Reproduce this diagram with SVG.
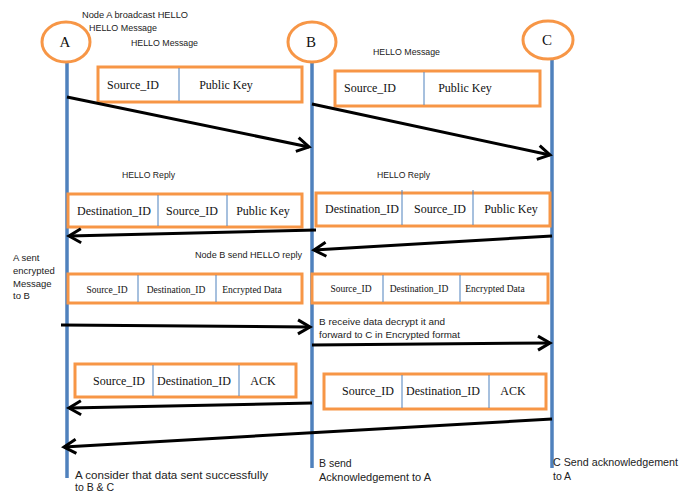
<svg xmlns="http://www.w3.org/2000/svg" width="681" height="494" viewBox="0 0 681 494">
<style>
.lbl{font-family:"Liberation Sans","Open Sans",sans-serif;font-size:9.5px;fill:#222}
.blbl{font-family:"Liberation Sans","Open Sans",sans-serif;font-size:10.5px;fill:#222}
.node{fill:#fff;stroke:#f79646;stroke-width:3}
.ntx{font-family:"Liberation Serif",serif;font-size:15px;fill:#111;text-anchor:middle}
.life{stroke:#4f81bd;stroke-width:3.5;fill:none}
.box{fill:#fff;stroke:#f79646;stroke-width:3}
.div{stroke:#4f81bd;stroke-width:1}
.ft{font-family:"Liberation Serif",serif;font-size:12px;fill:#111;text-anchor:middle}
.fs{font-family:"Liberation Serif",serif;font-size:9.5px;fill:#111;text-anchor:middle}
.arr{stroke:#000;stroke-width:3;fill:none;marker-end:url(#ah)}
</style>
<defs>
<marker id="ah" markerUnits="userSpaceOnUse" markerWidth="20" markerHeight="20" viewBox="-14 -10 20 20" refX="0" refY="0" orient="auto">
<path d="M-12,-7 L0,0 L-12,7" fill="none" stroke="#000" stroke-width="3" stroke-linejoin="miter"/>
</marker>
</defs>
<rect width="681" height="494" fill="#fff"/>

<g id="lifelines">
<line class="life" x1="67" y1="62" x2="67" y2="478"/>
<line class="life" x1="312" y1="62" x2="312" y2="468"/>
<line class="life" x1="552" y1="60" x2="552" y2="468"/>
</g>

<g id="nodeA"><ellipse class="node" cx="66" cy="42" rx="24" ry="20"/><text class="ntx" x="65" y="47">A</text></g>
<g id="nodeB"><ellipse class="node" cx="312" cy="42" rx="24" ry="20"/><text class="ntx" x="311" y="47">B</text></g>
<g id="nodeC"><ellipse class="node" cx="548" cy="40" rx="25" ry="19"/><text class="ntx" x="547" y="45">C</text></g>

<g id="labels">
<text class="lbl" x="82" y="18" textLength="106" lengthAdjust="spacingAndGlyphs">Node A broadcast HELLO</text>
<text class="lbl" x="89" y="31" textLength="68" lengthAdjust="spacingAndGlyphs">HELLO Message</text>
<text class="lbl" x="131" y="46" textLength="67" lengthAdjust="spacingAndGlyphs">HELLO Message</text>
<text class="lbl" x="373" y="55" textLength="67" lengthAdjust="spacingAndGlyphs">HELLO Message</text>
<text class="lbl" x="122" y="178" textLength="53" lengthAdjust="spacingAndGlyphs">HELLO Reply</text>
<text class="lbl" x="377" y="178" textLength="53" lengthAdjust="spacingAndGlyphs">HELLO Reply</text>
<text class="lbl" x="195" y="258" textLength="107" lengthAdjust="spacingAndGlyphs">Node B send HELLO reply</text>
<text class="lbl" x="13" y="261">A sent</text>
<text class="lbl" x="13" y="274">encrypted</text>
<text class="lbl" x="13" y="287">Message</text>
<text class="lbl" x="13" y="299">to B</text>
<text class="lbl" x="319" y="325" textLength="126" lengthAdjust="spacingAndGlyphs">B receive data decrypt it and</text>
<text class="lbl" x="319" y="338" textLength="141" lengthAdjust="spacingAndGlyphs">forward to C in Encrypted format</text>
<text class="blbl" x="75" y="479" textLength="193" lengthAdjust="spacingAndGlyphs">A consider that data sent successfully</text>
<text class="blbl" x="75" y="491">to B &amp; C</text>
<text class="blbl" x="319" y="467">B send</text>
<text class="blbl" x="319" y="481" textLength="112" lengthAdjust="spacingAndGlyphs">Acknowledgement to A</text>
<text class="blbl" x="553" y="466" textLength="125" lengthAdjust="spacingAndGlyphs">C Send acknowledgement</text>
<text class="blbl" x="553" y="480">to A</text>
</g>

<g id="frame1">
<rect class="box" x="98" y="67" width="204" height="35"/>
<line class="div" x1="179" y1="68" x2="179" y2="101"/>
<text class="ft" x="133" y="89">Source_ID</text>
<text class="ft" x="226" y="89">Public Key</text>
</g>
<g id="frame2">
<rect class="box" x="335" y="71" width="205" height="35"/>
<line class="div" x1="424" y1="72" x2="424" y2="105"/>
<text class="ft" x="370" y="92">Source_ID</text>
<text class="ft" x="465" y="92">Public Key</text>
</g>
<g id="frame3">
<rect class="box" x="68" y="194" width="234" height="33"/>
<line class="div" x1="158" y1="195" x2="158" y2="226"/>
<line class="div" x1="227" y1="195" x2="227" y2="226"/>
<text class="ft" x="114" y="215">Destination_ID</text>
<text class="ft" x="192" y="215">Source_ID</text>
<text class="ft" x="263" y="215">Public Key</text>
</g>
<g id="frame4">
<rect class="box" x="316" y="193" width="234" height="33"/>
<line class="div" x1="402" y1="190" x2="402" y2="225"/>
<line class="div" x1="473" y1="190" x2="473" y2="225"/>
<text class="ft" x="362" y="213">Destination_ID</text>
<text class="ft" x="440" y="213">Source_ID</text>
<text class="ft" x="511" y="213">Public Key</text>
</g>
<g id="frame5">
<rect class="box" x="68" y="274" width="234" height="29"/>
<line class="div" x1="138" y1="275" x2="138" y2="302"/>
<line class="div" x1="216" y1="275" x2="216" y2="302"/>
<text class="fs" x="107" y="293">Source_ID</text>
<text class="fs" x="176" y="293">Destination_ID</text>
<text class="fs" x="252" y="293">Encrypted Data</text>
</g>
<g id="frame6">
<rect class="box" x="312" y="274" width="236" height="29"/>
<line class="div" x1="383" y1="275" x2="383" y2="302"/>
<line class="div" x1="460" y1="275" x2="460" y2="302"/>
<text class="fs" x="351" y="292">Source_ID</text>
<text class="fs" x="419" y="292">Destination_ID</text>
<text class="fs" x="495" y="292">Encrypted Data</text>
</g>
<g id="frame7">
<rect class="box" x="75" y="364" width="221" height="33"/>
<line class="div" x1="153" y1="365" x2="153" y2="396"/>
<line class="div" x1="239" y1="365" x2="239" y2="396"/>
<text class="ft" x="119" y="385">Source_ID</text>
<text class="ft" x="194" y="385">Destination_ID</text>
<text class="ft" x="263" y="385">ACK</text>
</g>
<g id="frame8">
<rect class="box" x="324" y="374" width="222" height="35"/>
<line class="div" x1="402" y1="375" x2="402" y2="408"/>
<line class="div" x1="489" y1="375" x2="489" y2="408"/>
<text class="ft" x="368" y="395">Source_ID</text>
<text class="ft" x="443" y="395">Destination_ID</text>
<text class="ft" x="513" y="395">ACK</text>
</g>

<g id="connectors">
<line class="arr" x1="67" y1="97" x2="309" y2="147"/>
<line class="arr" x1="312" y1="104" x2="550" y2="155"/>
<line class="arr" x1="316" y1="230" x2="69" y2="236"/>
<line class="arr" x1="552" y1="236" x2="314" y2="250"/>
<line class="arr" x1="61" y1="325" x2="310" y2="327"/>
<line class="arr" x1="312" y1="345" x2="550" y2="343"/>
<line class="arr" x1="312" y1="403" x2="69" y2="408"/>
<line class="arr" x1="552" y1="419" x2="64" y2="447"/>
</g>
</svg>
